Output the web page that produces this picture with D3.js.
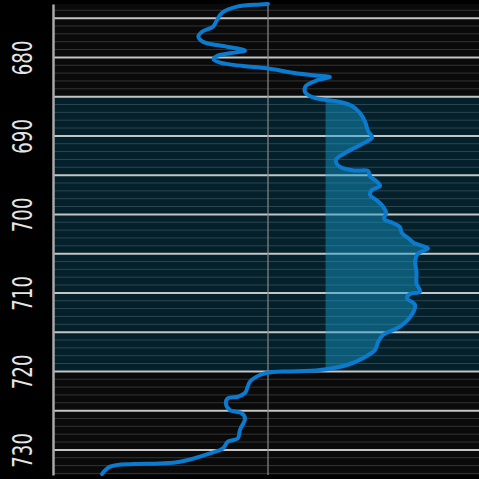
<!DOCTYPE html>
<html>
<head>
<meta charset="utf-8">
<script src="https://cdn.jsdelivr.net/npm/d3@7"></script>
<style>
  html, body { margin: 0; padding: 0; background: #000; }
  svg { display: block; }
</style>
</head>
<body>
<svg id="chart" width="479" height="479"></svg>
<script>
// Depth track: gamma-ray style log with a shaded interval and a cutoff fill
const depthTicks = [680, 690, 700, 710, 720, 730];

const depth = [
  673.2, 673.26, 673.54, 674.35, 675.24, 676.09, 676.73, 677.34, 678.0, 678.64,
  679.15, 679.48, 679.82, 680.24, 680.68, 681.1, 681.39, 681.95, 682.31, 682.5,
  682.88, 683.65, 684.41, 685.05, 685.37, 685.68, 686.19, 687.09, 688.23, 689.38,
  690.21, 691.03, 692.18, 693.07, 693.96, 694.41, 694.47, 695.17, 695.62, 696.38,
  696.89, 697.53, 698.23, 698.99, 699.79, 700.59, 701.1, 701.61, 702.37, 703.2,
  703.65, 704.32, 704.98, 706.03, 707.3, 708.78, 709.85, 710.14, 710.69, 711.54,
  712.82, 714.31, 715.36, 716.26, 717.28, 718.33, 719.19, 719.83, 720.02, 720.08,
  720.46, 721.31, 722.75, 723.23, 723.43, 724.07, 724.92, 725.34, 725.98, 727.47,
  728.52, 728.96, 729.8, 730.44, 731.51, 731.73, 731.8, 732.14, 733.07
];

const gamma = [
  75.0, 72.2, 64.2, 58.9, 57.2, 55.8, 52.0, 50.7, 52.3, 60.7,
  67.0, 61.7, 57.2, 56.0, 58.3, 66.3, 74.6, 83.7, 91.4, 96.6,
  92.4, 88.2, 87.9, 90.3, 94.2, 100.1, 104.3, 107.1, 108.9, 109.9,
  111.3, 107.8, 101.9, 98.7, 100.1, 105.3, 109.9, 110.6, 112.3, 114.1,
  111.3, 110.6, 113.0, 115.1, 116.2, 115.5, 118.6, 121.0, 121.7, 124.5,
  125.9, 130.8, 127.3, 126.3, 126.8, 126.8, 128.0, 124.5, 123.5, 126.3,
  125.1, 121.0, 115.1, 113.4, 112.3, 108.1, 102.6, 93.1, 82.7, 76.7,
  72.2, 68.7, 67.0, 64.5, 61.0, 60.3, 61.7, 65.9, 67.0, 65.2,
  64.5, 61.0, 59.3, 54.8, 44.3, 37.3, 27.9, 19.9, 17.1
];

const zoneInterval = [685, 720];   // shaded interval (top, base)
const cutoffValue = 95;            // fill where the log exceeds this value
const referenceValue = 75;         // vertical reference line

const svg = d3.select("#chart");
const plotLeft = 53, plotRight = 483, plotTop = 4, plotBottom = 475, viewRight = 479;

const y = d3.scaleLinear().domain([673.2, 733.2]).range([plotTop, plotBottom]);
const x = d3.scaleLinear().domain([0, 150]).range([plotLeft, plotRight]);

// plot background
svg.append("rect")
  .attr("x", plotLeft).attr("y", plotTop)
  .attr("width", viewRight - plotLeft).attr("height", plotBottom - plotTop)
  .attr("fill", "#0a0a0a");

// shaded interval
svg.append("rect")
  .attr("x", plotLeft).attr("y", y(zoneInterval[0]))
  .attr("width", viewRight - plotLeft)
  .attr("height", y(zoneInterval[1]) - y(zoneInterval[0]))
  .attr("fill", "#03202b");

// minor depth grid (every unit)
const minor = d3.range(674, 734).filter(d => d % 5 !== 0);
svg.append("g").selectAll("line").data(minor).join("line")
  .attr("x1", plotLeft).attr("x2", viewRight)
  .attr("y1", d => y(d)).attr("y2", d => y(d))
  .attr("stroke", "rgba(255,255,255,0.17)")
  .attr("stroke-width", 1);

// major depth grid (every five units)
const major = d3.range(675, 734, 5);
svg.append("g").selectAll("line").data(major).join("line")
  .attr("x1", plotLeft).attr("x2", viewRight)
  .attr("y1", d => y(d)).attr("y2", d => y(d))
  .attr("stroke", "#c4c4c4")
  .attr("stroke-width", 2);

// reference line
svg.append("line")
  .attr("x1", x(referenceValue)).attr("x2", x(referenceValue))
  .attr("y1", plotTop).attr("y2", plotBottom)
  .attr("stroke", "#8a8a8a")
  .attr("stroke-width", 1.2);

const pts = depth.map((d, i) => ({ d, v: gamma[i] }));
const curve = d3.curveCatmullRom.alpha(0.5);

// cutoff fill, clipped to the interval and to values above the cutoff
const defs = svg.append("defs");
defs.append("clipPath").attr("id", "cutoffClip")
  .append("rect")
  .attr("x", x(cutoffValue)).attr("y", y(zoneInterval[0]))
  .attr("width", viewRight - x(cutoffValue))
  .attr("height", y(zoneInterval[1]) - y(zoneInterval[0]));

const area = d3.area()
  .y(p => y(p.d))
  .x0(() => x(cutoffValue))
  .x1(p => x(p.v))
  .curve(curve);

svg.append("path")
  .datum(pts)
  .attr("clip-path", "url(#cutoffClip)")
  .attr("d", area)
  .attr("fill", "rgba(25,160,210,0.45)");

// log curve
const line = d3.line()
  .y(p => y(p.d))
  .x(p => x(p.v))
  .curve(curve);

svg.append("path")
  .datum(pts)
  .attr("d", line)
  .attr("fill", "none")
  .attr("stroke", "#0b7bd0")
  .attr("stroke-width", 4)
  .attr("stroke-linejoin", "round")
  .attr("stroke-linecap", "round");

// depth axis with upright-reading, condensed labels
const axis = d3.axisLeft(y).tickValues(depthTicks).tickSize(0).tickSizeOuter(0).tickFormat(d3.format("d"));
const gAxis = svg.append("g").attr("transform", `translate(${plotLeft},0)`).call(axis);
gAxis.select(".domain").attr("stroke", "#a8a8a8").attr("stroke-width", 2.5);
gAxis.selectAll(".tick text")
  .attr("x", 0).attr("dy", 0)
  .attr("transform", "translate(-21,0) rotate(-90) scale(0.7,1)")
  .attr("text-anchor", "middle")
  .attr("fill", "#e6e6e6")
  .style("font-family", "'DejaVu Sans', sans-serif")
  .style("font-size", "26px");
</script>
</body>
</html>
